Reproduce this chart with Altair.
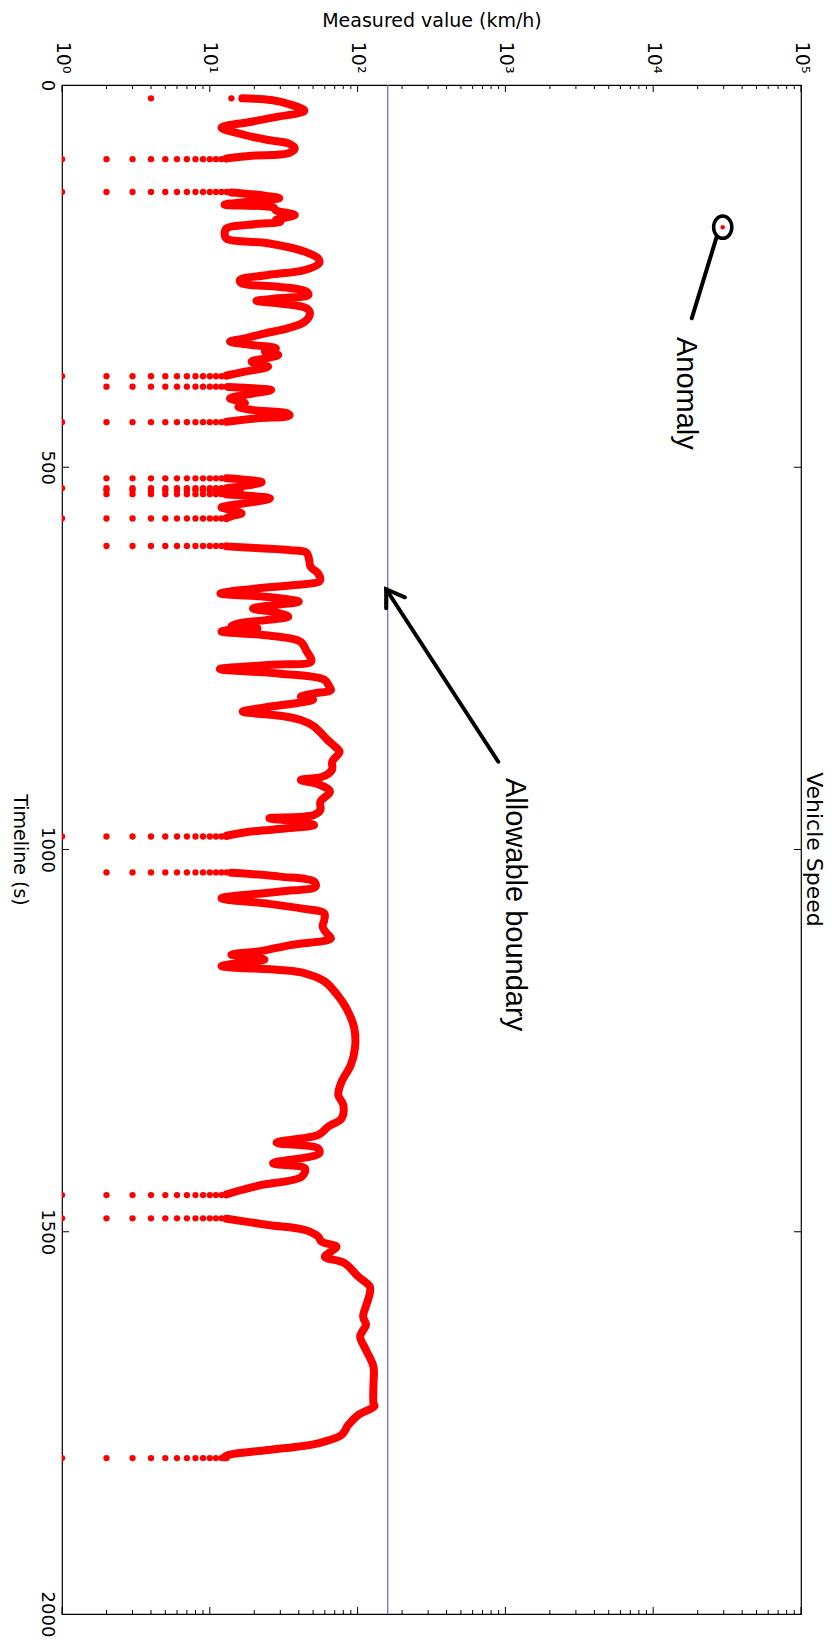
import altair as alt
import pandas as pd

# ---------------- data ----------------
boundary_speed = 160
x_major = [1, 10, 100, 1000, 10000, 100000]
x_minor = [m * 10 ** k for k in range(5) for m in range(2, 10)]
y_ticks = [0, 500, 1000, 1500, 2000]

# driving sections: (time s, speed km/h)
sec1 = [(17.4, 16.6), (19.6, 26), (26, 35.7), (32.7, 43.5), (35, 43), (41.4, 29), (48, 19.2),
        (55.8, 12), (65.4, 17.3), (72, 24.8), (76.3, 34), (82.8, 37.6), (89.4, 34), (92.4, 19.2), (96, 13)]
sec2 = [(140.5, 14), (144, 22), (148, 29.5), (152, 20), (156.5, 12.6), (160.5, 27), (164, 28), (170, 37.6),
        (176.6, 28), (178.8, 30), (183, 18), (187.5, 13), (195, 12.6), (201, 13), (207, 24.8), (218, 44),
        (226.7, 54), (233, 55), (242, 44), (248.5, 24.8), (255, 16), (259.4, 16.4), (263.8, 29), (270.3, 45.2),
        (274.7, 46.4), (279, 29), (282.5, 20.7), (285.6, 29), (292, 45), (298.7, 47.6), (309.6, 44),
        (318.3, 33.5), (324.8, 23.6), (331.4, 17.3), (335.7, 13.7), (340, 19.2), (344.4, 28), (348.8, 23.6),
        (353.2, 29), (357.5, 23.6), (361.9, 19.2), (368.4, 24.8), (375, 17.3), (380, 13)]
sec3 = [(395, 13.3), (399, 26), (404, 19), (410, 13.7), (416, 17.3), (420.7, 15.6), (425, 19.2),
        (429.5, 33.5), (432.5, 34.6), (436, 21), (440.4, 13)]
secA = [(514.5, 13), (519.5, 22.4), (527.5, 13)]
secB = [(530, 13), (532.5, 16), (535, 13)]
secC = [(535.5, 13), (540.7, 25.5), (546, 19), (552.5, 12), (556, 14), (560.3, 16.4), (564, 14), (566.5, 13)]
secD = [(603.5, 13), (606, 22), (608.5, 35), (611.7, 45), (621, 47), (630, 48), (638.8, 54), (646, 56),
        (649.7, 55), (654, 38), (659, 20), (665, 11.8), (670, 26), (675.8, 40), (680, 28), (684.6, 19.6),
        (690, 28), (695.5, 34), (700, 24), (704, 16), (708, 14), (710.7, 21), (713, 13), (715, 12),
        (720, 25), (728, 41), (740, 45), (754, 48.5), (758, 28), (764, 11.7), (770, 30), (778, 59.5),
        (786, 64), (791.3, 66), (796, 50), (800, 41.3), (804, 50), (808, 40), (814, 24), (819.7, 16.7),
        (825, 30), (830.6, 41.3), (839.4, 51), (856.8, 62.6), (865, 70), (872, 75.5), (885, 67.4),
        (896, 67), (904.7, 58), (909, 41.3), (915, 55), (924.3, 65), (937.4, 56), (948.3, 56),
        (954.8, 50.7), (959.2, 25.3), (963, 38), (968, 50.7), (972, 35), (977, 18), (982, 13)]
secE = [(1030.5, 14), (1035.5, 30), (1042, 50.8), (1048.5, 52), (1055, 30), (1063.8, 12), (1070.4, 23.4),
        (1077, 41.3), (1083.5, 59.5), (1092.2, 59.5), (1101, 58), (1110, 62), (1116.2, 66), (1125, 35),
        (1133, 22), (1137.5, 14), (1144, 23.4), (1152.4, 12), (1157.6, 30), (1161.9, 44), (1172.8, 60),
        (1190.3, 73), (1207.7, 84), (1233.9, 95), (1260, 96), (1281.8, 90), (1303.6, 78), (1321, 74),
        (1334, 80), (1351.6, 78), (1362.5, 63.3), (1373.4, 54.2), (1383.5, 28.3), (1390.9, 54),
        (1397.4, 55), (1410.5, 26.8), (1417, 44), (1428, 41.8), (1438.8, 22.4), (1445.4, 16.4), (1451, 13)]
secF = [(1483, 13), (1491.1, 24.8), (1497.7, 44), (1506.4, 54.2), (1513, 57), (1519.5, 72), (1526, 66),
        (1532.6, 60), (1541.3, 82), (1558.7, 101), (1571.8, 121), (1580.5, 121), (1595, 115), (1611, 109),
        (1621.9, 114), (1630, 108), (1637.2, 104), (1654.7, 114), (1676.4, 128), (1700, 128),
        (1724.4, 128), (1728, 130), (1739.7, 101), (1752.8, 86.4), (1765.8, 78), (1776.7, 54),
        (1785.5, 24.8), (1792, 13.3), (1795, 12.5)]
sections = [sec1, sec2, sec3, secA, secB, secC, secD, secE, secF]

# stop/start ramps: rows of dots at integer speeds
ramp_time = [97, 140, 381, 394.6, 441, 514.5, 527.5, 530, 535.2, 567, 603, 983, 1030, 1452, 1482.4, 1796]
ramp_has_1 = [1, 1, 1, 0, 1, 0, 1, 0, 0, 1, 0, 1, 0, 1, 1, 1]
ramp_speeds = [2, 3, 4, 5, 6, 7, 8, 9, 10, 11, 12, 13]
start_dot_t = [17.4, 17.4]
start_dot_v = [4, 14]

anomaly_t = [186]
anomaly_v = [29540]

# annotation strokes (time, speed)
pointer = [(198.4, 26900), (305.2, 18230)]
arrow_shaft = [(885.2, 895), (659.6, 156)]
arrow_head = [(670.1, 209), (659.6, 156), (684.5, 156)]
ann_labels = ["Anomaly", "Allowable boundary"]
ann_t = [329.6, 906.5]
ann_v = [14600, 1005]

# ---------------- tables ----------------
rows = []
for sid, sec in enumerate(sections):
    for i, (t, v) in enumerate(sec):
        rows.append({"sec": sid, "i": i, "t": t, "v": v})
line_df = pd.DataFrame(rows)

dots = []
for rt, h1 in zip(ramp_time, ramp_has_1):
    sp = ([1] if h1 else []) + ramp_speeds
    for v in sp:
        dots.append({"t": rt, "v": v})
for t, v in zip(start_dot_t, start_dot_v):
    dots.append({"t": t, "v": v})
dots_df = pd.DataFrame(dots)

ann_rows = []
for g, seg in enumerate([pointer, arrow_shaft, arrow_head]):
    for i, (t, v) in enumerate(seg):
        ann_rows.append({"g": g, "i": i, "t": t, "v": v})
ann_df = pd.DataFrame(ann_rows)

W, H = 739, 1529
FONT = "DejaVu Sans"

xs = alt.Scale(type="log", domain=[1, 100000], nice=False)
ys = alt.Scale(domain=[0, 2000], reverse=True, nice=False, zero=False)

x_axis = alt.Axis(
    orient="top", values=x_major,
    labelExpr="'10' + ['\u2070','\u00b9','\u00b2','\u00b3','\u2074','\u2075'][round(log(datum.value)/LN10)]",
    labelAngle=90, labelAlign="right", labelBaseline="middle", labelPadding=12,
    labelFont=FONT, labelFontSize=19, labelColor="black", labelFlush=False, labelOverlap=False,
    ticks=False, tickSize=0, domain=False, grid=False,
    title="Measured value (km/h)", titleFont=FONT, titleFontSize=19, titleFontWeight="normal",
    titleColor="black", titleAngle=0, titleX=W / 2, titleY=-59, titleAlign="center",
    titleBaseline="alphabetic",
)
y_axis = alt.Axis(
    orient="left", values=y_ticks, format="d",
    labelAngle=90, labelAlign="center", labelBaseline="top", labelPadding=7,
    labelFont=FONT, labelFontSize=18, labelColor="black", labelFlush=False, labelOverlap=False,
    ticks=False, tickSize=0, domain=False, grid=False,
    title="Timeline (s)", titleFont=FONT, titleFontSize=19, titleFontWeight="normal",
    titleColor="black", titleAngle=90, titleX=-49, titleY=H / 2, titleAlign="center",
    titleBaseline="alphabetic",
)


def X():
    return alt.X("v:Q", scale=xs, axis=x_axis)


def Y():
    return alt.Y("t:Q", scale=ys, axis=y_axis)


boundary = alt.Chart(pd.DataFrame({"v": [boundary_speed]})).mark_rule(
    color="#6464d2", strokeWidth=1.2).encode(x=X())

speed_line = alt.Chart(line_df).mark_line(
    color="#ff0000", strokeWidth=8, strokeCap="round", strokeJoin="round", clip=True,
    interpolate="catmull-rom"
).encode(x=X(), y=Y(), detail="sec:N", order="i:Q")

speed_dots = alt.Chart(dots_df).mark_circle(color="#ff0000", size=40, opacity=1, clip=True).encode(
    x=X(), y=Y())

anom_df = pd.DataFrame({"t": anomaly_t, "v": anomaly_v})
anom_dot = alt.Chart(anom_df).mark_circle(color="#ff0000", size=20, opacity=1).encode(x=X(), y=Y())
anom_ring = alt.Chart(anom_df).mark_point(
    shape="M0,-1A0.82,1,0,1,1,0,1A0.82,1,0,1,1,0,-1Z", filled=False, stroke="black",
    strokeWidth=3.5, size=493, opacity=1).encode(x=X(), y=Y())

ann_lines = alt.Chart(ann_df).mark_line(
    color="black", strokeWidth=4, strokeCap="round", strokeJoin="miter").encode(
    x=X(), y=Y(), detail="g:N", order="i:Q")

ann_text = alt.Chart(pd.DataFrame({"t": ann_t, "v": ann_v, "label": ann_labels})).mark_text(
    angle=90, align="left", baseline="alphabetic", font="Liberation Sans", fontSize=29, color="black"
).encode(x=X(), y=Y(), text="label:N")

title_txt = alt.Chart(pd.DataFrame({"label": ["Vehicle Speed"]})).mark_text(
    angle=90, align="center", baseline="alphabetic", font=FONT, fontSize=22, color="black"
).encode(x=alt.value(W + 6), y=alt.value(H / 2), text="label:N")

maj_df = pd.DataFrame({"v": x_major})
min_df = pd.DataFrame({"v": x_minor})
ytk_df = pd.DataFrame({"t": y_ticks[1:-1]})
tk = dict(color="black", strokeWidth=1)
ticks = [
    alt.Chart(maj_df).mark_rule(**tk).encode(x=X(), y=alt.value(0), y2=alt.value(7)),
    alt.Chart(min_df).mark_rule(**tk).encode(x=X(), y=alt.value(0), y2=alt.value(4)),
    alt.Chart(maj_df).mark_rule(**tk).encode(x=X(), y=alt.value(H), y2=alt.value(H - 7)),
    alt.Chart(min_df).mark_rule(**tk).encode(x=X(), y=alt.value(H), y2=alt.value(H - 4)),
    alt.Chart(ytk_df).mark_rule(**tk).encode(y=Y(), x=alt.value(0), x2=alt.value(7)),
    alt.Chart(ytk_df).mark_rule(**tk).encode(y=Y(), x=alt.value(W), x2=alt.value(W - 7)),
]

chart = alt.layer(
    speed_line, boundary, speed_dots, anom_dot, anom_ring, ann_lines, ann_text, title_txt, *ticks
).properties(
    width=W, height=H,
    padding={"left": 54, "top": 77, "right": 27, "bottom": 25},
    autosize=alt.AutoSizeParams(type="none"),
    background="white",
).configure_view(stroke="black", strokeWidth=1.2)

chart.save("out.html", embed_options={"renderer": "svg", "actions": False})
